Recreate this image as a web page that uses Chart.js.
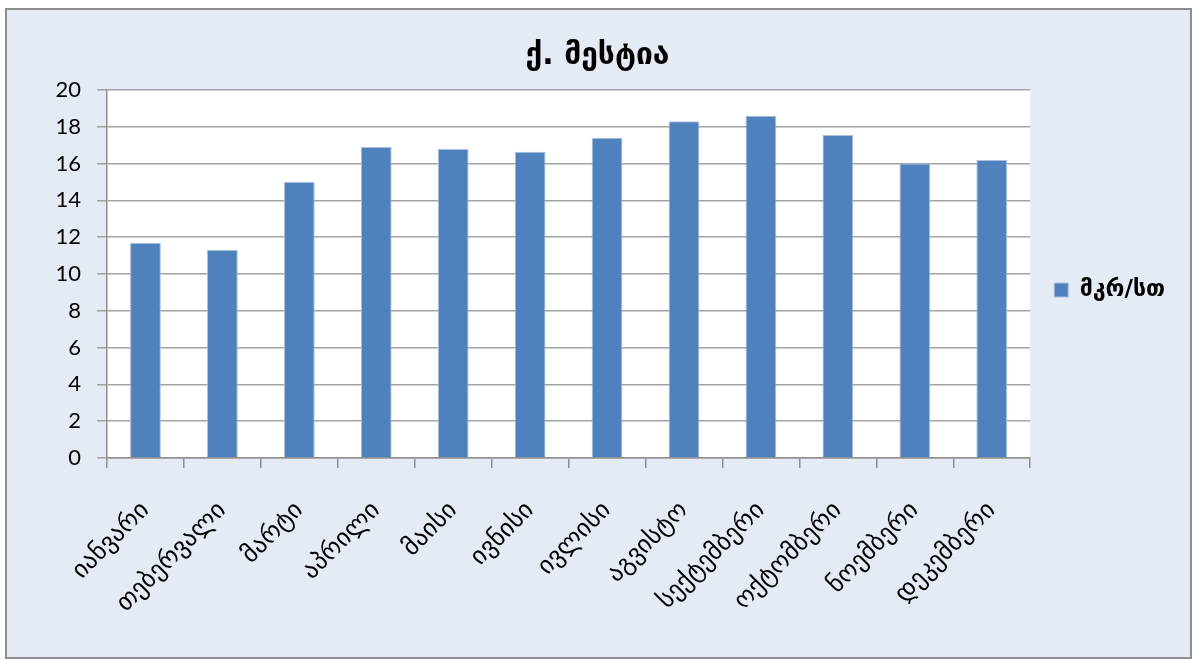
<!DOCTYPE html>
<html>
<head>
<meta charset="utf-8">
<script src="https://cdn.jsdelivr.net/npm/chart.js@4.4.1/dist/chart.umd.min.js"></script>
<style>
    body { margin: 0; background: #ffffff; width: 1195px; height: 660px; overflow: hidden; position: relative; }
    #moldura { position: absolute; left: 5px; top: 8px; width: 1183px; height: 647px; border: 2px solid #8e8e8e; background: #e4ebf5; }
    #grafico { position: absolute; left: 0; top: 0; }
</style>
</head>
<body>
<div id="moldura"></div>
<canvas id="grafico" width="1195" height="660"></canvas>
<script>
// Dados do gráfico
const titulo = 'ქ. მესტია';
const meses = ['იანვარი', 'თებერვალი', 'მარტი', 'აპრილი', 'მაისი', 'ივნისი',
    'ივლისი', 'აგვისტო', 'სექტემბერი', 'ოქტომბერი', 'ნოემბერი', 'დეკემბერი'];
const nomeSerie = 'მკრ/სთ';
const valores = [11.7, 11.3, 15.0, 16.9, 16.8, 16.65, 17.4, 18.3, 18.6, 17.55, 16.0, 16.2];
const ticksY = [0, 2, 4, 6, 8, 10, 12, 14, 16, 18, 20];

const fonteGeo = '"DejaVu Sans", sans-serif';
const fonteNum = 'Lato, "DejaVu Sans", sans-serif';

// Plugin pra desenhar o fundo branco da área, o título e ajeitar a legenda
const pluginTitulo = {
    id: 'tituloArea',
    afterLayout(chart) {
        // legenda centralizada mais ou menos na altura da área do gráfico
        chart.legend.top = chart.chartArea.top;
        chart.legend.bottom = chart.chartArea.bottom + 32;
        // empurra a legenda um pouco pra direita
        chart.legend.left += 12;
        chart.legend.right += 12;
    },
    beforeDraw(chart) {
        const a = chart.chartArea;
        const ctx = chart.ctx;
        ctx.save();
        ctx.fillStyle = '#ffffff';
        ctx.fillRect(a.left, a.top, a.right - a.left, a.bottom - a.top);
        ctx.restore();
    },
    afterDraw(chart) {
        const ctx = chart.ctx;
        ctx.save();
        ctx.font = 'bold 30px ' + fonteGeo;
        ctx.fillStyle = '#000000';
        ctx.textAlign = 'center';
        ctx.textBaseline = 'middle';
        ctx.fillText(titulo, chart.width / 2, 56);
        ctx.restore();
    }
};

const grafico = new Chart(document.getElementById('grafico').getContext('2d'), {
    type: 'bar',
    data: {
        labels: meses,
        datasets: [{
            label: nomeSerie,
            data: valores,
            backgroundColor: '#4f81bd',
            borderColor: '#a9c0e0',
            borderWidth: 1,
            barPercentage: 0.4,
            categoryPercentage: 1
        }]
    },
    options: {
        responsive: false,
        animation: false,
        layout: { padding: { top: 90, left: 0, right: 32, bottom: 0 } },
        plugins: {
            title: { display: false },
            tooltip: { enabled: false },
            legend: {
                position: 'right',
                labels: {
                    color: '#000000',
                    font: { family: fonteGeo, size: 23, weight: 'bold' },
                    boxWidth: 14,
                    boxHeight: 14,
                    padding: 12
                }
            }
        },
        scales: {
            x: {
                grid: { offset: true, drawOnChartArea: false, drawTicks: true, tickLength: 10, color: '#8e8e8e', lineWidth: 1.5 },
                border: { color: '#8e8e8e', width: 1.5 },
                ticks: {
                    color: '#000000',
                    font: { family: fonteGeo, size: 25 },
                    minRotation: 45,
                    maxRotation: 45,
                    padding: 28,
                    autoSkip: false
                },
                afterFit(escala) { escala.height = 202; }
            },
            y: {
                min: 0,
                max: 20,
                afterBuildTicks(escala) { escala.ticks = ticksY.map(v => ({ value: v })); },
                grid: { color: '#a3a3a3', lineWidth: 1.5, tickLength: 10 },
                border: { color: '#8e8e8e', width: 1.5 },
                ticks: {
                    color: '#000000',
                    font: { family: fonteNum, size: 22 },
                    padding: 16
                },
                afterFit(escala) { escala.width = 107; }
            }
        }
    },
    plugins: [pluginTitulo]
});
</script>
</body>
</html>
